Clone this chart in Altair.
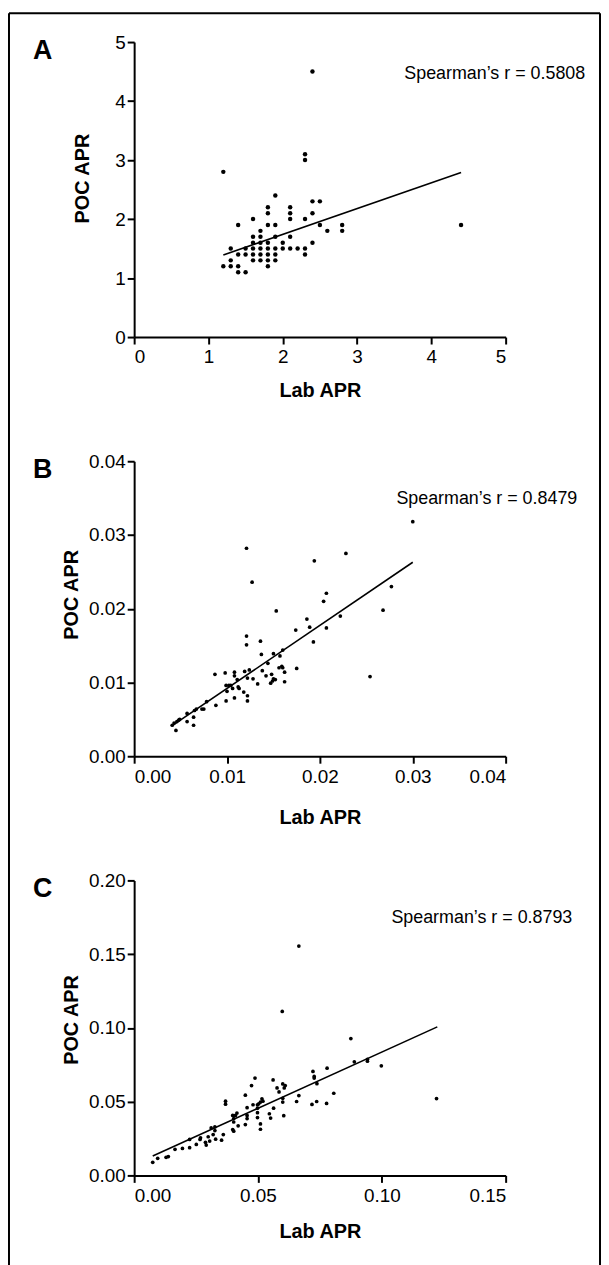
import altair as alt
import pandas as pd

FONT = "Liberation Sans"

# ---------------- Panel A ----------------
a_lab = [1.2, 2.4, 2.3, 2.3, 1.9, 1.8, 1.8, 2.1, 2.1, 2.1, 2.4, 2.5, 2.4, 1.6, 2.3,
         1.4, 1.8, 1.9, 2.5, 2.8, 4.4, 2.8, 2.6, 1.7,
         1.6, 1.7, 1.9, 2.1,
         1.6, 1.7, 1.8, 2.0, 2.4,
         1.3, 1.5, 1.6, 1.7, 1.8, 1.9, 2.0, 2.1, 2.2, 2.3,
         1.4, 1.5, 1.6, 1.7, 1.8, 1.9, 2.3,
         1.3, 1.6, 1.7, 1.8, 1.9,
         1.2, 1.3, 1.4, 1.8,
         1.4, 1.5]
a_poc = [2.8, 4.5, 3.1, 3.0, 2.4, 2.2, 2.1, 2.2, 2.1, 2.0, 2.3, 2.3, 2.1, 2.0, 2.0,
         1.9, 1.9, 1.9, 1.9, 1.9, 1.9, 1.8, 1.8, 1.8,
         1.7, 1.7, 1.7, 1.7,
         1.6, 1.6, 1.6, 1.6, 1.6,
         1.5, 1.5, 1.5, 1.5, 1.5, 1.5, 1.5, 1.5, 1.5, 1.5,
         1.4, 1.4, 1.4, 1.4, 1.4, 1.4, 1.4,
         1.3, 1.3, 1.3, 1.3, 1.3,
         1.2, 1.2, 1.2, 1.2,
         1.1, 1.1]
a_fit_x = [1.2, 4.4]
a_fit_y = [1.39, 2.79]
a_ticks_x = [0, 1, 2, 3, 4, 5]
a_ticks_y = [0, 1, 2, 3, 4, 5]

# ---------------- Panel B ----------------
b_lab = [0.0300, 0.0121, 0.0228, 0.0194, 0.0127, 0.0277, 0.0207, 0.0204, 0.0153, 0.0268,
         0.0222, 0.0186, 0.0189, 0.0207, 0.0174, 0.0193, 0.0121, 0.0121, 0.0136, 0.0137,
         0.0160, 0.0150, 0.0157, 0.0144, 0.0138, 0.0156, 0.0159, 0.0160, 0.0175, 0.0162,
         0.0162, 0.0142, 0.0148, 0.0150, 0.0149, 0.0147, 0.0152, 0.0133, 0.0128, 0.0122,
         0.0119, 0.0124, 0.0111, 0.0108, 0.0108, 0.0087, 0.0098, 0.0099, 0.0102, 0.0104,
         0.0106, 0.0112, 0.0113, 0.0100, 0.0118, 0.0122, 0.0108, 0.0099, 0.0122, 0.0088,
         0.0078, 0.0073, 0.0075, 0.0067, 0.0065, 0.0064, 0.0064, 0.0057, 0.0057, 0.0049,
         0.0048, 0.0046, 0.0043, 0.0041, 0.0045, 0.0254]
b_poc = [0.0318, 0.0282, 0.0275, 0.0265, 0.0236, 0.0230, 0.0221, 0.0210, 0.0197, 0.0198,
         0.0190, 0.0186, 0.0175, 0.0174, 0.0171, 0.0155, 0.0163, 0.0151, 0.0156, 0.0138,
         0.0144, 0.0139, 0.0136, 0.0126, 0.0116, 0.0120, 0.0122, 0.0120, 0.0119, 0.0114,
         0.0101, 0.0109, 0.0111, 0.0105, 0.0102, 0.0099, 0.0104, 0.0098, 0.0105, 0.0106,
         0.0115, 0.0117, 0.0104, 0.0114, 0.0109, 0.0111, 0.0113, 0.0096, 0.0096, 0.0096,
         0.0092, 0.0094, 0.0092, 0.0088, 0.0087, 0.0082, 0.0079, 0.0075, 0.0075, 0.0069,
         0.0074, 0.0064, 0.0064, 0.0064, 0.0062, 0.0053, 0.0042, 0.0058, 0.0047, 0.0050,
         0.0049, 0.0047, 0.0045, 0.0042, 0.0035, 0.0108]
b_fit_x = [0.0041, 0.0300]
b_fit_y = [0.00415, 0.0263]
b_ticks_x = [0.00, 0.01, 0.02, 0.03, 0.04]
b_ticks_y = [0.00, 0.01, 0.02, 0.03, 0.04]

# ---------------- Panel C ----------------
c_lab = [0.0665, 0.0598, 0.0875, 0.0889, 0.0942, 0.0942, 0.0998, 0.1221, 0.0779, 0.0722,
         0.0727, 0.0727, 0.0738, 0.0806, 0.0777, 0.0737, 0.0718, 0.0665, 0.0656, 0.0488,
         0.0561, 0.0474, 0.0600, 0.0610, 0.0606, 0.0577, 0.0585, 0.0449, 0.0600, 0.0600,
         0.0563, 0.0604, 0.0516, 0.0510, 0.0520, 0.0503, 0.0498, 0.0498, 0.0498, 0.0498,
         0.0480, 0.0456, 0.0510, 0.0510, 0.0546, 0.0551, 0.0369, 0.0369, 0.0415, 0.0409,
         0.0398, 0.0402, 0.0402, 0.0456, 0.0456, 0.0449, 0.0420, 0.0398, 0.0402, 0.0360,
         0.0353, 0.0326, 0.0311, 0.0326, 0.0319, 0.0329, 0.0299, 0.0305, 0.0288, 0.0291,
         0.0268, 0.0266, 0.0251, 0.0224, 0.0224, 0.0195, 0.0165, 0.0138, 0.0129, 0.0095,
         0.0075]
c_poc = [0.1555, 0.1112, 0.0928, 0.0770, 0.0787, 0.0774, 0.0743, 0.0521, 0.0727, 0.0705,
         0.0671, 0.0660, 0.0622, 0.0557, 0.0488, 0.0501, 0.0481, 0.0541, 0.0501, 0.0660,
         0.0647, 0.0609, 0.0620, 0.0609, 0.0593, 0.0593, 0.0566, 0.0544, 0.0523, 0.0497,
         0.0456, 0.0405, 0.0519, 0.0497, 0.0503, 0.0485, 0.0479, 0.0456, 0.0425, 0.0392,
         0.0479, 0.0459, 0.0349, 0.0313, 0.0418, 0.0389, 0.0503, 0.0483, 0.0423, 0.0407,
         0.0407, 0.0385, 0.0362, 0.0407, 0.0385, 0.0345, 0.0336, 0.0311, 0.0300, 0.0277,
         0.0239, 0.0329, 0.0322, 0.0304, 0.0277, 0.0246, 0.0262, 0.0233, 0.0224, 0.0206,
         0.0255, 0.0244, 0.0210, 0.0244, 0.0188, 0.0183, 0.0177, 0.0128, 0.0123, 0.0116,
         0.0089]
c_fit_x = [0.0075, 0.1224]
c_fit_y = [0.0132, 0.1007]
c_ticks_x = [0.00, 0.05, 0.10, 0.15]
c_ticks_y = [0.00, 0.05, 0.10, 0.15, 0.20]

W = 374
H = 297


def panel(lab, poc, fit_x, fit_y, ticks_x, ticks_y, fmt, letter, rtext,
          tx, ty, dot, ytx, yty, xtp, frame=False):
    pts = pd.DataFrame({"lab": lab, "poc": poc})
    fit = pd.DataFrame({"lab": fit_x, "poc": fit_y})
    xs = alt.Scale(domain=[ticks_x[0], ticks_x[-1]], nice=False)
    ys = alt.Scale(domain=[ticks_y[0], ticks_y[-1]], nice=False)
    xax = alt.Axis(values=ticks_x, format=fmt, title="Lab APR", titlePadding=xtp,
                   labelPadding=4)
    yax = alt.Axis(values=ticks_y, format=fmt, title="POC APR",
                   labelPadding=2, titleX=ytx, titleY=yty,
                   titleBaseline="middle", titleAlign="center")
    points = alt.Chart(pts).mark_circle(color="black", opacity=1, size=dot).encode(
        x=alt.X("lab:Q", scale=xs, axis=xax),
        y=alt.Y("poc:Q", scale=ys, axis=yax),
    )
    line = alt.Chart(fit).mark_line(color="black", strokeWidth=1.6).encode(
        x=alt.X("lab:Q", scale=xs),
        y=alt.Y("poc:Q", scale=ys),
    )
    txt = alt.Chart(pd.DataFrame({"t": [rtext]})).mark_text(
        align="left", baseline="middle", font=FONT, fontSize=18, color="black"
    ).encode(x=alt.value(tx), y=alt.value(ty), text="t:N")
    let = alt.Chart(pd.DataFrame({"t": [letter]})).mark_text(
        align="center", baseline="middle", font=FONT, fontSize=27,
        fontWeight="bold", color="black"
    ).encode(x=alt.value(-92), y=alt.value(9), text="t:N")
    layers = [points, line, txt, let]
    if frame:
        fr = pd.DataFrame({"k": [1]})
        top = alt.Chart(fr).mark_rule(color="black", strokeWidth=2).encode(
            x=alt.value(-126), x2=alt.value(469), y=alt.value(-29))
        left = alt.Chart(fr).mark_rule(color="black", strokeWidth=2).encode(
            x=alt.value(-126), y=alt.value(-29), y2=alt.value(1240))
        right = alt.Chart(fr).mark_rule(color="black", strokeWidth=2).encode(
            x=alt.value(469), y=alt.value(-29), y2=alt.value(1240))
        layers += [top, left, right]
    return alt.layer(*layers).properties(width=W, height=H)


pa = panel(a_lab, a_poc, a_fit_x, a_fit_y, a_ticks_x, a_ticks_y, "d", "A",
           "Spearman\u2019s r = 0.5808", 272, 32, 20, -52, 137, 14, frame=True)
pb = panel(b_lab, b_poc, b_fit_x, b_fit_y, b_ticks_x, b_ticks_y, ".2f", "B",
           "Spearman\u2019s r = 0.8479", 264, 38, 14, -63, 134, 22)
pc = panel(c_lab, c_poc, c_fit_x, c_fit_y, c_ticks_x, c_ticks_y, ".2f", "C",
           "Spearman\u2019s r = 0.8793", 259, 38, 14, -63, 140, 17)

chart = alt.vconcat(pa, pb, pc, spacing=125, bounds="flush").properties(
    padding=0
).configure_view(strokeWidth=0).configure_axis(
    grid=False,
    domainColor="black", domainWidth=2,
    tickColor="black", tickWidth=2, tickSize=7,
    labelFont=FONT, labelFontSize=19, labelColor="black",
    titleFont=FONT, titleFontSize=20, titleFontWeight="bold", titleColor="black",
)

chart.save("out.html", embed_options={"renderer": "svg", "actions": False})
